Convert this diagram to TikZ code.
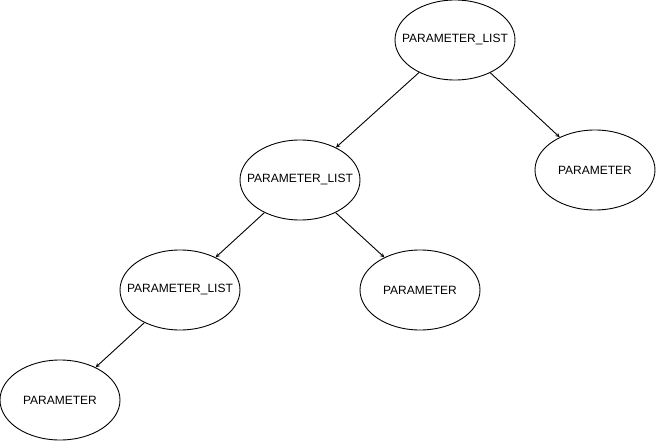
\documentclass[tikz,border=0pt]{standalone}
\usepackage{fontspec}
\setmainfont{Liberation Sans}
\usepackage{tikz}
\usetikzlibrary{shapes.geometric}

\begin{document}
\begin{tikzpicture}[>=stealth, x=1pt, y=-1pt,
    tree/.style={draw, ellipse, minimum width=120pt, minimum height=80pt, inner xsep=-12pt, inner ysep=0pt, line width=0.9pt, font=\fontsize{12}{14}\selectfont}]
            % Frame of the picture
            \useasboundingbox (0,0) rectangle (656,441);

            % Parameter lists (left branch)
            \foreach \i/\x/\y in {1/455/40, 2/300/180, 3/180/290}
            {
                \node[tree] (List-\i) at (\x,\y) {PARAMETER\_LIST};
            }

            % Parameters
            \foreach \i/\x/\y in {1/595/170, 2/420/290, 3/60/400}
            {
                \node[tree] (Param-\i) at (\x,\y) {PARAMETER};
            }

            % Draw connections between lists and to the parameters
            \foreach \i/\j in {1/2, 2/3}
            {
                \draw[->, line width=0.9pt] (List-\i) -- (List-\j);
            }
            \foreach \i in {1,...,3}
            {
                \draw[->, line width=0.9pt] (List-\i) -- (Param-\i);
            }

        \end{tikzpicture}
\end{document}
